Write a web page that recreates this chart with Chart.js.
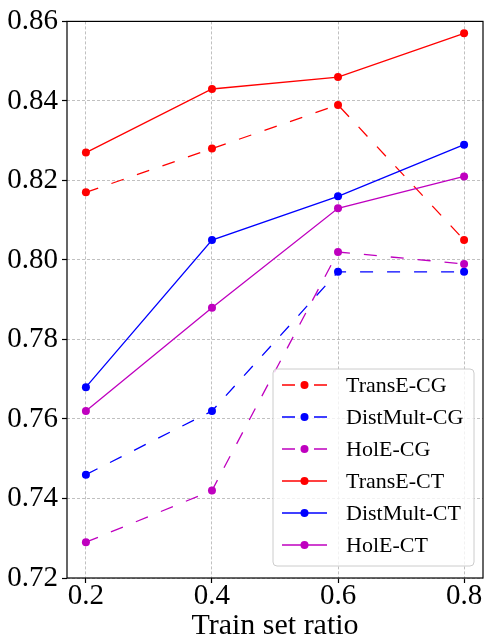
<!DOCTYPE html>
<html>
<head>
<meta charset="utf-8">
<script src="https://cdn.jsdelivr.net/npm/chart.js@4"></script>
<style>
  html, body { margin: 0; padding: 0; background: #fff; }
  #wrap { width: 487px; height: 639px; }
</style>
</head>
<body>
<div id="wrap"><canvas id="chart" width="487" height="639"></canvas></div>
<script>
"use strict";

const ratios = [0.2, 0.4, 0.6, 0.8];
const transeCG = [0.817, 0.828, 0.839, 0.805];
const distmultCG = [0.746, 0.762, 0.797, 0.797];
const holeCG = [0.729, 0.742, 0.802, 0.799];
const transeCT = [0.827, 0.843, 0.846, 0.857];
const distmultCT = [0.768, 0.805, 0.816, 0.829];
const holeCT = [0.762, 0.788, 0.813, 0.821];
const xTicks = [0.2, 0.4, 0.6, 0.8];

const FONT = "'Liberation Serif', 'Times New Roman', serif";

function makeSet(label, values, color, dashed) {
    return {
        label: label,
        data: values.map((v, i) => ({ x: ratios[i], y: v })),
        borderColor: color,
        backgroundColor: color,
        borderWidth: 1.3,
        borderDash: dashed ? [13, 14] : [],
        pointRadius: 4,
        pointBorderWidth: 0,
        pointBackgroundColor: color,
        tension: 0,
        fill: false
    };
}

const sets = [
    makeSet("TransE-CG", transeCG, "#ff0000", true),
    makeSet("DistMult-CG", distmultCG, "#0000ff", true),
    makeSet("HolE-CG", holeCG, "#bf00bf", true),
    makeSet("TransE-CT", transeCT, "#ff0000", false),
    makeSet("DistMult-CT", distmultCT, "#0000ff", false),
    makeSet("HolE-CT", holeCT, "#bf00bf", false)
];
// matplotlib draws later lines on top
sets.forEach((s, i) => { s.order = sets.length - i; });

// frame + legend in the style of matplotlib
const frameLegend = {
    id: "frameLegend",
    afterDraw(chart) {
        const ctx = chart.ctx;
        const a = chart.chartArea;
        ctx.save();
        ctx.strokeStyle = "#000";
        ctx.lineWidth = 1.2;
        ctx.setLineDash([]);
        ctx.strokeRect(a.left, a.top, a.right - a.left, a.bottom - a.top);

        const bx = 273, by = 369, bw = 201, bh = 197, r = 4;
        ctx.beginPath();
        ctx.moveTo(bx + r, by);
        ctx.arcTo(bx + bw, by, bx + bw, by + bh, r);
        ctx.arcTo(bx + bw, by + bh, bx, by + bh, r);
        ctx.arcTo(bx, by + bh, bx, by, r);
        ctx.arcTo(bx, by, bx + bw, by, r);
        ctx.closePath();
        ctx.fillStyle = "rgba(255,255,255,0.8)";
        ctx.fill();
        ctx.strokeStyle = "#cccccc";
        ctx.lineWidth = 1;
        ctx.stroke();

        ctx.font = "22px " + FONT;
        ctx.textBaseline = "middle";
        ctx.textAlign = "left";
        chart.data.datasets.forEach((ds, i) => {
            const y = by + 16 + i * 32;
            ctx.strokeStyle = ds.borderColor;
            ctx.lineWidth = 1.3;
            ctx.beginPath();
            if (ds.borderDash.length) {
                ctx.moveTo(282, y); ctx.lineTo(295, y);
                ctx.moveTo(314, y); ctx.lineTo(327, y);
            } else {
                ctx.moveTo(282, y); ctx.lineTo(327, y);
            }
            ctx.stroke();
            ctx.fillStyle = ds.borderColor;
            ctx.beginPath();
            ctx.arc(304.5, y, 4, 0, Math.PI * 2);
            ctx.fill();
            ctx.fillStyle = "#000";
            ctx.fillText(ds.label, 346, y + 1);
        });
        ctx.restore();
    }
};

const ctx = document.getElementById("chart").getContext("2d");
new Chart(ctx, {
    type: "line",
    data: { datasets: sets },
    plugins: [frameLegend],
    options: {
        responsive: false,
        animation: false,
        devicePixelRatio: 1,
        layout: { padding: { top: 18, right: 2, left: 0, bottom: 0 } },
        plugins: {
            legend: { display: false },
            tooltip: { enabled: false }
        },
        scales: {
            x: {
                type: "linear",
                min: 0.17,
                max: 0.83,
                afterBuildTicks: (scale) => {
                    scale.ticks = xTicks.map(v => ({ value: v }));
                },
                afterFit: (scale) => { scale.height = 61; },
                ticks: {
                    autoSkip: false,
                    maxRotation: 0,
                    color: "#000",
                    padding: -4,
                    font: { family: FONT, size: 29 },
                    callback: (v) => Number(v).toFixed(1)
                },
                grid: {
                    color: "#b0b0b0",
                    lineWidth: 0.8,
                    tickColor: "#000",
                    tickLength: 5,
                    tickWidth: 1.2,
                    tickBorderDash: []
                },
                border: { display: false, dash: [3, 2] },
                title: {
                    display: true,
                    text: "Train set ratio",
                    color: "#000",
                    padding: { top: 0, bottom: -5 },
                    font: { family: FONT, size: 30 }
                }
            },
            y: {
                min: 0.72,
                max: 0.86,
                afterFit: (scale) => { scale.width = 67; },
                ticks: {
                    stepSize: 0.02,
                    autoSkip: false,
                    color: "#000",
                    padding: 4,
                    font: { family: FONT, size: 29 },
                    callback: (v) => Number(v).toFixed(2)
                },
                grid: {
                    color: "#b0b0b0",
                    lineWidth: 0.8,
                    tickColor: "#000",
                    tickLength: 5,
                    tickWidth: 1.2,
                    tickBorderDash: []
                },
                border: { display: false, dash: [3, 2] }
            }
        }
    }
});
</script>
</body>
</html>
